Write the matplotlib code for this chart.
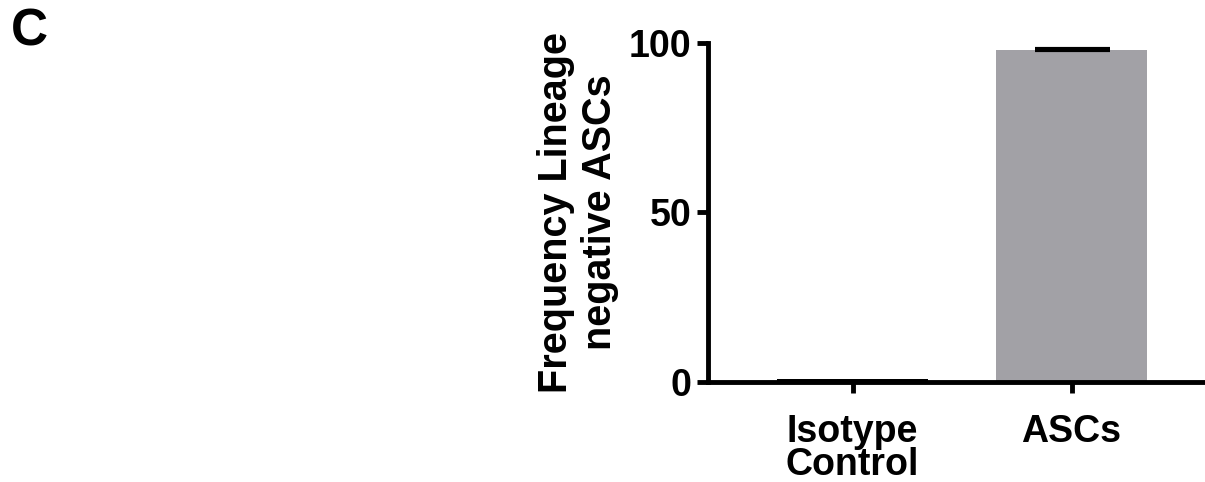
import matplotlib
matplotlib.use("Agg")
import matplotlib.pyplot as plt

# values
groups = ["Isotype\nControl", "ASCs"]
freq = [0.8, 97.8]
err_up = [0.0, 0.5]
bar_colors = ["#000000", "#A2A1A6"]
yticks = [0, 50, 100]

plt.rcParams["font.family"] = ["Liberation Sans", "DejaVu Sans"]
plt.rcParams["font.weight"] = "bold"

fig = plt.figure(figsize=(12.05, 4.82), dpi=100)
ax = fig.add_axes([0.5876, 0.2075, 0.4116, 0.7033])

x = list(range(len(groups)))
ax.bar(x, freq, width=0.69, color=bar_colors, zorder=2)
ax.errorbar(x[1], freq[1], yerr=[[0], [err_up[1]]], fmt="none",
            ecolor="black", elinewidth=3, capsize=27, capthick=3, zorder=3)

ax.set_xlim(-0.66, 1.605)
ax.set_ylim(0, 100)
ax.set_yticks(yticks)
ax.set_xticks(x)
ax.set_xticklabels(groups, fontsize=27, fontweight="bold", linespacing=0.9)
ax.tick_params(axis="y", labelsize=27, width=3.5, length=8, pad=4)
ax.tick_params(axis="x", width=3.5, length=8, pad=15)
for lbl in ax.get_yticklabels():
    lbl.set_fontweight("bold")

for s in ["top", "right"]:
    ax.spines[s].set_visible(False)
for s in ["left", "bottom"]:
    ax.spines[s].set_linewidth(3.5)

ax.set_ylabel("Frequency Lineage\nnegative ASCs", fontsize=28.5, fontweight="bold",
              linespacing=1.2, labelpad=7)

fig.text(0.009, 0.934, "C", fontsize=37, fontweight="bold", va="center")

fig.savefig("out.png", dpi=100)
